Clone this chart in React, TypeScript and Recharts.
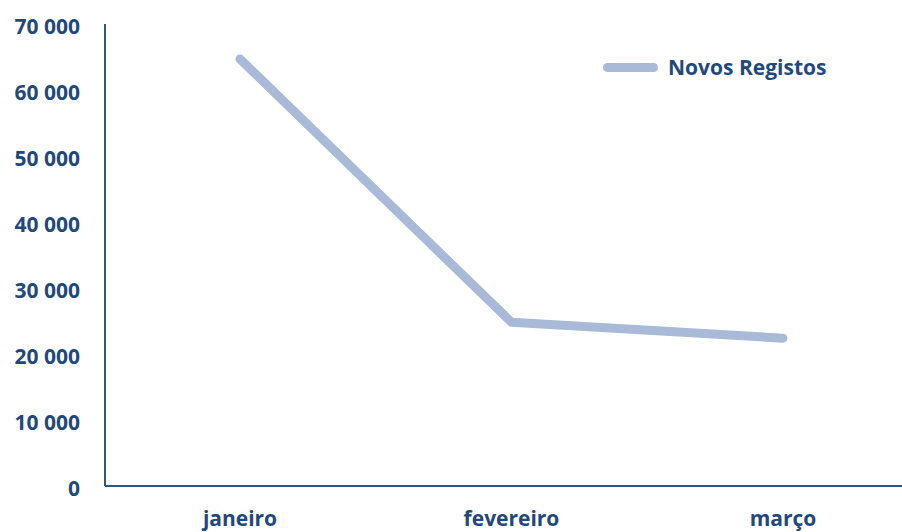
import { LineChart, Line, XAxis, YAxis, Legend } from 'recharts'

const months = ['janeiro', 'fevereiro', 'março']
const novosRegistos = [64700, 24800, 22400]
const yTicks = [0, 10000, 20000, 30000, 40000, 50000, 60000, 70000]

const data = months.map((m, i) => ({ month: m, novos: novosRegistos[i] }))

const TEXT = '#1F497D'
const AXIS = '#2F5587'
const LINE = '#A9B9D8'
const FONT = '"Open Sans", sans-serif'

const fmt = (v: number) => String(v).replace(/\B(?=(\d{3})+(?!\d))/g, ' ')

function LegendBox() {
  return (
    <div style={{ display: 'flex', alignItems: 'center', fontFamily: FONT, fontWeight: 700, fontSize: 21, color: TEXT, whiteSpace: 'nowrap' }}>
      <span style={{ display: 'inline-block', width: 55, height: 9, borderRadius: 5, background: LINE, marginRight: 10 }} />
      Novos Registos
    </div>
  )
}

export default function App() {
  return (
    <div style={{ position: 'absolute', left: 0, top: 0, width: 902, height: 532, overflow: 'hidden', background: 'white' }}>
      <LineChart width={918} height={532} data={data} margin={{ top: 24, right: 0, left: 0, bottom: 0 }}>
        <XAxis
          dataKey="month"
          height={46}
          padding={{ left: 135, right: 135 }}
          tick={{ fontSize: 21, fontWeight: 700, fill: TEXT, fontFamily: FONT }}
          tickLine={false}
          tickSize={0}
          tickMargin={25}
          axisLine={{ stroke: AXIS, strokeWidth: 2 }}
        />
        <YAxis
          width={105}
          domain={[0, 70000]}
          ticks={yTicks}
          interval={0}
          tickFormatter={fmt}
          tick={{ fontSize: 21, fontWeight: 700, fill: TEXT, fontFamily: FONT, dy: 3 }}
          tickLine={false}
          tickSize={0}
          tickMargin={25}
          axisLine={{ stroke: AXIS, strokeWidth: 2 }}
        />
        <Legend
          layout="horizontal"
          verticalAlign="middle"
          align="center"
          wrapperStyle={{ top: 53, left: 603, width: 280 }}
          content={() => <LegendBox />}
        />
        <Line
          type="linear"
          dataKey="novos"
          stroke={LINE}
          strokeWidth={9}
          strokeLinecap="round"
          strokeLinejoin="round"
          dot={false}
          activeDot={false}
          isAnimationActive={false}
        />
      </LineChart>
    </div>
  )
}
